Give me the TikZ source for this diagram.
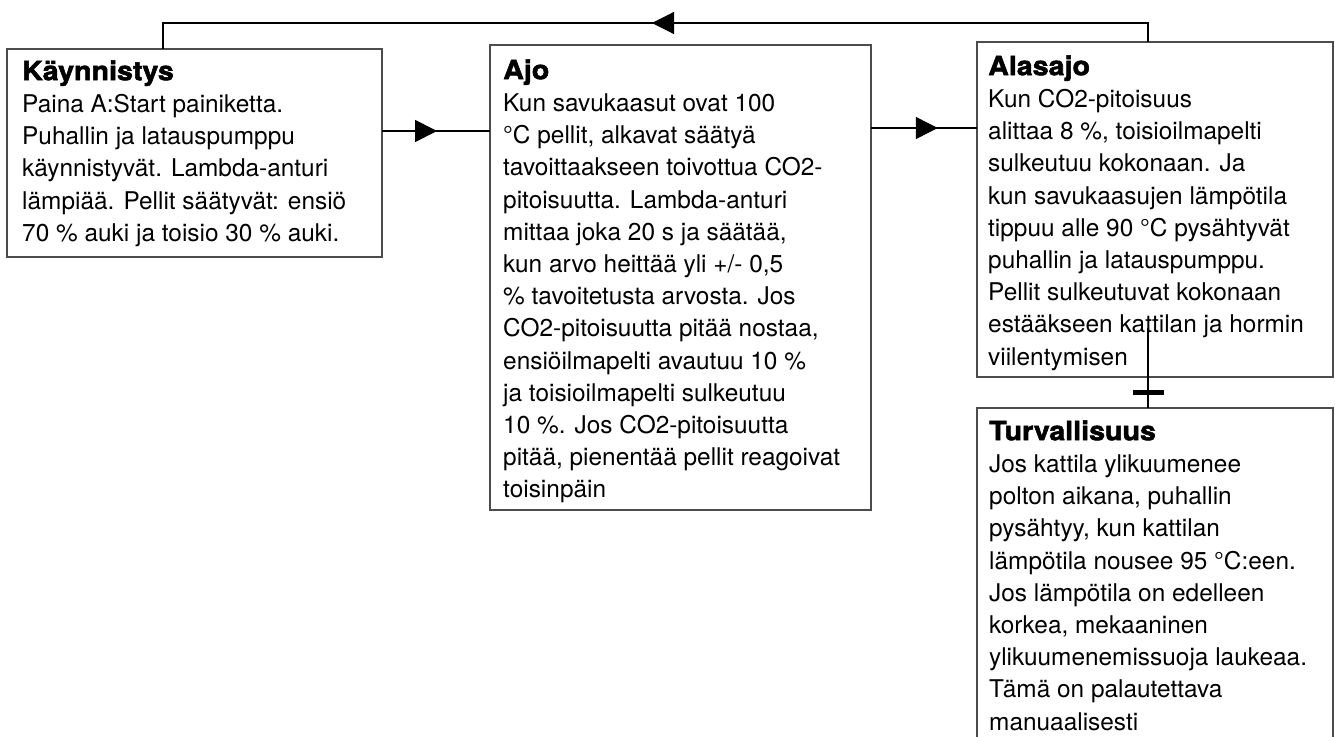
\documentclass[tikz,border=0pt]{standalone}
\usepackage{fontspec}
\setmainfont{TeX Gyre Heros}
\newfontfamily\headfont{TeX Gyre Heros}[BoldFeatures={FakeBold=2,FakeStretch=1.08}]
\usetikzlibrary{arrows.meta,decorations.markings}

\tikzset{
  phase/.style={draw=black!70, line width=1.3pt, anchor=north west,
                inner sep=0pt, outer sep=0pt},
  phasetext/.style={anchor=north west, align=left, inner sep=0pt,
                    font=\fontsize{24.4}{32.2}\selectfont},
  flow/.style={line width=1.2pt},
  midarrow/.style={postaction={decorate}, decoration={markings,
      mark=at position #1 with {\arrow{Triangle[length=22pt,width=22pt]}}}},
  blockbar/.style={postaction={decorate}, decoration={markings,
      mark=at position #1 with {\draw[line width=5pt] (0,-15.5pt) -- (0,15.5pt);}}}
}
\newcommand{\phasehead}[1]{\rule{0pt}{26pt}{\headfont\bfseries\fontsize{26.5}{32.2}\selectfont #1}}

\begin{document}
\begin{tikzpicture}[x=1pt, y=-1pt]
    \clip (0,0) rectangle (1335,736);

    % --- the four phase boxes (the last one runs off the bottom) ---
    \foreach \name/\x/\y/\w/\h in {kaynnistys/7/49/375/208, ajo/490/45/381/465,
                                   alasajo/977/42/356/335, turva/977/408/356/350}
      \node[phase, minimum width=\w pt, minimum height=\h pt] (\name) at (\x,\y) {};

    % --- box texts, first baseline about 32pt under the top edge ---
    \node[phasetext] (kaynnistysteksti) at ([xshift=15pt,yshift=-5pt]kaynnistys.north west)
      {\phasehead{Käynnistys}\\
       Paina A:Start painiketta.\\
       Puhallin ja latauspumppu\\
       käynnistyvät. Lambda-anturi\\
       lämpiää. Pellit säätyvät: ensiö\\
       70 \% auki ja toisio 30 \% auki.};
    \node[phasetext] (ajoteksti) at ([xshift=13pt,yshift=-8pt]ajo.north west)
      {\phasehead{Ajo}\\
       Kun savukaasut ovat 100\\
       °C pellit, alkavat säätyä\\
       tavoittaakseen toivottua CO2-\\
       pitoisuutta. Lambda-anturi\\
       mittaa joka 20 s ja säätää,\\
       kun arvo heittää yli +/- 0,5\\
       \% tavoitetusta arvosta. Jos\\
       CO2-pitoisuutta pitää nostaa,\\
       ensiöilmapelti avautuu 10 \%\\
       ja toisioilmapelti sulkeutuu\\
       10 \%. Jos CO2-pitoisuutta\\
       pitää, pienentää pellit reagoivat\\
       toisinpäin};
    \node[phasetext] (alasajoteksti) at ([xshift=11pt,yshift=-7pt]alasajo.north west)
      {\phasehead{Alasajo}\\
       Kun CO2-pitoisuus\\
       alittaa 8 \%, toisioilmapelti\\
       sulkeutuu kokonaan. Ja\\
       kun savukaasujen lämpötila\\
       tippuu alle 90 °C pysähtyvät\\
       puhallin ja latauspumppu.\\
       Pellit sulkeutuvat kokonaan\\
       estääkseen kattilan ja hormin\\
       viilentymisen};
    \node[phasetext] (turvateksti) at ([xshift=12pt,yshift=-6pt]turva.north west)
      {\phasehead{Turvallisuus}\\
       Jos kattila ylikuumenee\\
       polton aikana, puhallin\\
       pysähtyy, kun kattilan\\
       lämpötila nousee 95 °C:een.\\
       Jos lämpötila on edelleen\\
       korkea, mekaaninen\\
       ylikuumenemissuoja laukeaa.\\
       Tämä on palautettava\\
       manuaalisesti};

    % --- forward flow, arrowheads in the middle of the lines ---
    \draw[flow, midarrow=0.51] ([yshift=-82pt]kaynnistys.north east)
      -- ([yshift=-82pt]kaynnistys.north east -| ajo.west);
    \draw[flow, midarrow=0.63] ([yshift=-83pt]ajo.north east)
      -- ([yshift=-83pt]ajo.north east -| alasajo.west);

    % --- back to start over the top ---
    \draw[flow, midarrow=0.5] ([xshift=171pt]alasajo.north west)
      -- ++(0,-19) -| ([xshift=156pt]kaynnistys.north west);

    % --- safety link with the bar ---
    \draw[flow, blockbar=0.8] ([xshift=171pt,yshift=49pt]alasajo.south west)
      -- ([xshift=171pt]turva.north west);
\end{tikzpicture}
\end{document}
